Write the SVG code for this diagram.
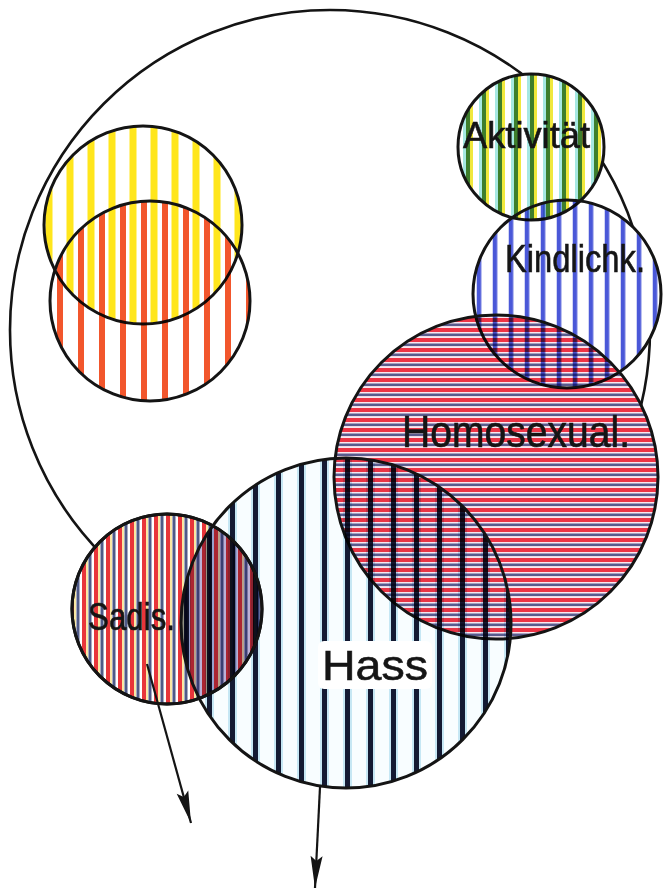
<svg xmlns="http://www.w3.org/2000/svg" xmlns:xlink="http://www.w3.org/1999/xlink" width="667" height="894" viewBox="0 0 667 894">
<style>
  .fill { mix-blend-mode: multiply; stroke: none; }
  .outline { fill: none; stroke: #141414; stroke-width: 3; }
  .lbl { font-family: "Liberation Sans", "DejaVu Sans", sans-serif; fill: #151515; stroke: #151515; stroke-width: 0.6; }
  .conn { stroke: #141414; stroke-width: 2.2; fill: none; }
</style>
<defs>
  <circle id="c-yellow" cx="143" cy="225" r="99"/>
  <circle id="c-red" cx="150" cy="301" r="100"/>
  <circle id="c-akt" cx="531" cy="147" r="73"/>
  <circle id="c-kind" cx="567" cy="294" r="94"/>
  <circle id="c-homo" cx="496" cy="477" r="162"/>
  <circle id="c-hass" cx="346" cy="623" r="165"/>
  <circle id="c-sadis" cx="167" cy="609" r="95"/>

  <pattern id="p-yellow" patternUnits="userSpaceOnUse" x="3.5" y="0" width="21" height="10">
    <rect x="0" y="0" width="7" height="10" fill="#ffe61c"/>
  </pattern>
  <pattern id="p-red" patternUnits="userSpaceOnUse" x="15" y="0" width="21" height="10">
    <rect x="0" y="0" width="6" height="10" fill="#f2562c"/>
  </pattern>
  <pattern id="p-akt" patternUnits="userSpaceOnUse" x="15" y="0" width="16" height="10">
    <rect x="0" y="0" width="3" height="10" fill="#a6e8e2"/>
    <rect x="3" y="0" width="4" height="10" fill="#3e7e2c"/>
    <rect x="7" y="0" width="3" height="10" fill="#f0e83c"/>
  </pattern>
  <pattern id="p-kind" patternUnits="userSpaceOnUse" x="12.75" y="0" width="16" height="10">
    <rect x="0" y="0" width="4.5" height="10" fill="#4a58d8"/>
  </pattern>
  <pattern id="p-homo" patternUnits="userSpaceOnUse" x="0" y="318" width="10" height="10">
    <rect x="0" y="0" width="10" height="10" fill="#fbe8f0"/>
    <rect x="0" y="0" width="10" height="4" fill="#ee3446"/>
    <rect x="0" y="5.5" width="10" height="2.6" fill="#5a5c8e"/>
  </pattern>
  <pattern id="p-hass" patternUnits="userSpaceOnUse" x="14" y="0" width="23" height="10">
    <rect x="0" y="0" width="23" height="10" fill="#f8fdff"/>
    <rect x="7" y="0" width="9" height="10" fill="#c6e7f4"/>
    <rect x="9" y="0" width="5" height="10" fill="#141a33"/>
  </pattern>
  <pattern id="p-sadis" patternUnits="userSpaceOnUse" x="70" y="0" width="12" height="10">
    <rect x="0" y="0" width="4" height="10" fill="#e8353a"/>
    <rect x="4.5" y="0" width="1" height="10" fill="#f3d24a"/>
    <rect x="6.5" y="0" width="3" height="10" fill="#4f5a88"/>
  </pattern>

  <mask id="m-outer" maskUnits="userSpaceOnUse" x="0" y="0" width="667" height="894">
    <rect x="0" y="0" width="667" height="894" fill="#fff"/>
    <use href="#c-yellow" fill="#000"/>
    <use href="#c-red" fill="#000"/>
    <use href="#c-akt" fill="#000"/>
    <use href="#c-kind" fill="#000"/>
    <use href="#c-homo" fill="#000"/>
    <use href="#c-hass" fill="#000"/>
    <use href="#c-sadis" fill="#000"/>
  </mask>
  <mask id="m-hass" maskUnits="userSpaceOnUse" x="0" y="0" width="667" height="894">
    <rect x="0" y="0" width="667" height="894" fill="#fff"/>
    <rect x="318" y="641" width="114" height="48" rx="6" fill="#000"/>
  </mask>
  <clipPath id="clip-hass">
    <circle cx="346" cy="623" r="165"/>
  </clipPath>
  <marker id="arrow" markerUnits="userSpaceOnUse" viewBox="-34 -7 36 14" refX="0" refY="0" markerWidth="36" markerHeight="14" orient="auto">
    <path d="M0,0 L-32,-6 L-27,0 L-32,6 Z" fill="#141414"/>
  </marker>
</defs>

<rect x="0" y="0" width="667" height="894" fill="#ffffff"/>

<g id="outer-circle">
  <circle cx="330" cy="330" r="320" fill="none" stroke="#141414" stroke-width="2.6" mask="url(#m-outer)"/>
</g>

<g id="node-yellow">
  <use href="#c-yellow" class="fill" fill="url(#p-yellow)"/>
  <use href="#c-yellow" class="outline" stroke="#2a1410"/>
</g>

<g id="node-red">
  <use href="#c-red" class="fill" fill="url(#p-red)"/>
  <use href="#c-red" class="outline" stroke="#2a1410"/>
</g>

<g id="node-aktivitaet">
  <use href="#c-akt" class="fill" fill="url(#p-akt)"/>
  <use href="#c-akt" class="outline"/>
  <text class="lbl" x="463" y="148" font-size="37" textLength="127" lengthAdjust="spacingAndGlyphs">Aktivität</text>
</g>

<g id="node-kindlichk">
  <use href="#c-kind" class="fill" fill="url(#p-kind)"/>
  <use href="#c-kind" class="outline"/>
  <text class="lbl" x="505" y="272" font-size="38" textLength="140" lengthAdjust="spacingAndGlyphs">Kindlichk.</text>
</g>

<g id="node-homosexual">
  <use href="#c-homo" class="fill" fill="url(#p-homo)"/>
  <use href="#c-homo" class="outline"/>
  <text class="lbl" x="402" y="447" font-size="44" textLength="228" lengthAdjust="spacingAndGlyphs">Homosexual.</text>
</g>

<g id="node-sadis">
  <use href="#c-sadis" class="fill" fill="url(#p-sadis)"/>
  <use href="#c-sadis" class="outline"/>
  <text class="lbl" x="88" y="630" font-size="38" textLength="87" lengthAdjust="spacingAndGlyphs">Sadis.</text>
</g>

<g id="node-hass">
  <use href="#c-hass" class="fill" fill="url(#p-hass)" mask="url(#m-hass)"/>
  <circle cx="167" cy="609" r="95" class="fill" fill="#c2b2d6" clip-path="url(#clip-hass)"/>
  <use href="#c-hass" class="outline"/>
  <use href="#c-sadis" class="outline"/>
  <text class="lbl" x="322" y="680" font-size="42" textLength="106" lengthAdjust="spacingAndGlyphs">Hass</text>
</g>

<g id="connectors">
  <line class="conn" x1="147" y1="664" x2="191" y2="823" marker-end="url(#arrow)"/>
  <line class="conn" x1="320" y1="787" x2="315" y2="888" marker-end="url(#arrow)"/>
</g>
</svg>
